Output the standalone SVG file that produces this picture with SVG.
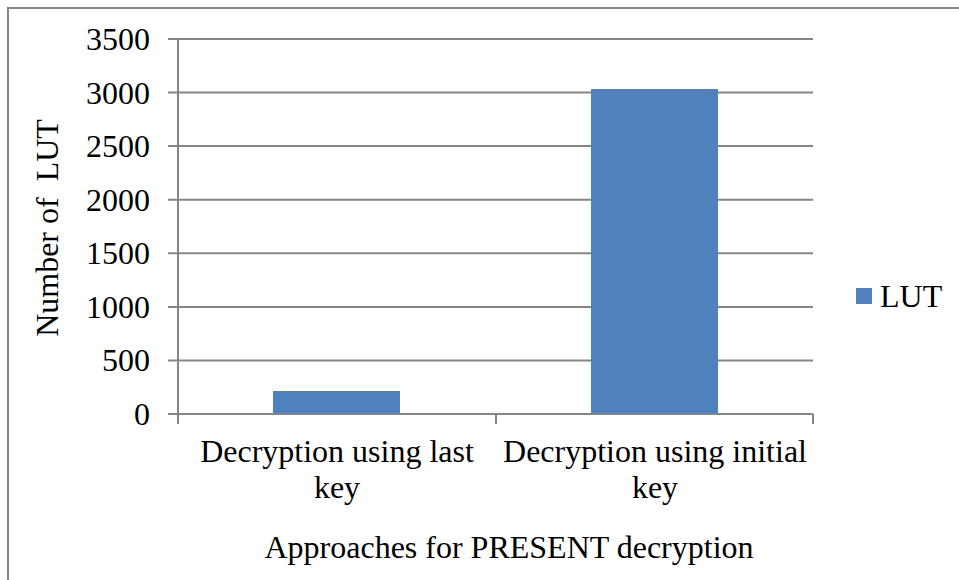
<svg xmlns="http://www.w3.org/2000/svg" width="959" height="580" viewBox="0 0 959 580">
  <style>
    text { font-family: "Liberation Serif", "Times New Roman", serif; font-size: 32px; fill: #000; }
    .grid { stroke: #868686; stroke-width: 2; fill: none; }
    .axis { stroke: #868686; stroke-width: 2; fill: none; }
    .frame { stroke: #868686; stroke-width: 2; fill: none; }
    .bar { fill: #4F81BD; }
  </style>
  <rect width="959" height="580" fill="#ffffff"/>

  <!-- chart frame: top and left edges only -->
  <path class="frame" d="M8 580 V8 H959"/>

  <!-- value gridlines with tick stubs -->
  <g id="gridlines">
    <line class="grid" x1="168" y1="39" x2="813" y2="39"/>
    <line class="grid" x1="168" y1="92.6" x2="813" y2="92.6"/>
    <line class="grid" x1="168" y1="146.1" x2="813" y2="146.1"/>
    <line class="grid" x1="168" y1="199.7" x2="813" y2="199.7"/>
    <line class="grid" x1="168" y1="253.3" x2="813" y2="253.3"/>
    <line class="grid" x1="168" y1="306.9" x2="813" y2="306.9"/>
    <line class="grid" x1="168" y1="360.4" x2="813" y2="360.4"/>
  </g>

  <!-- value axis labels -->
  <g id="value-labels" text-anchor="end">
    <text x="150" y="50">3500</text>
    <text x="150" y="103.6">3000</text>
    <text x="150" y="157.1">2500</text>
    <text x="150" y="210.7">2000</text>
    <text x="150" y="264.3">1500</text>
    <text x="150" y="317.9">1000</text>
    <text x="150" y="371.4">500</text>
    <text x="150" y="425">0</text>
  </g>

  <!-- bars -->
  <g id="bar-last-key">
    <rect class="bar" x="273" y="391" width="127" height="23"/>
  </g>
  <g id="bar-initial-key">
    <rect class="bar" x="591" y="89" width="127" height="325"/>
  </g>

  <!-- axes -->
  <g id="axes">
    <line class="axis" x1="178" y1="39" x2="178" y2="424"/>
    <line class="axis" x1="168" y1="414" x2="813" y2="414"/>
    <line class="axis" x1="496" y1="414" x2="496" y2="424"/>
    <line class="axis" x1="813" y1="414" x2="813" y2="424"/>
  </g>

  <!-- category labels -->
  <g id="category-labels" text-anchor="middle">
    <text x="337" y="462">Decryption using last</text>
    <text x="337" y="498">key</text>
    <text x="655" y="462">Decryption using initial</text>
    <text x="655" y="498">key</text>
  </g>

  <!-- axis titles -->
  <text id="x-title" x="509" y="558" text-anchor="middle">Approaches for PRESENT decryption</text>
  <text id="y-title" text-anchor="middle" transform="translate(58 228) rotate(-90)" xml:space="preserve">Number of  LUT</text>

  <!-- legend -->
  <g id="legend">
    <rect class="bar" x="856" y="288" width="16" height="16"/>
    <text x="880" y="307">LUT</text>
  </g>
</svg>
